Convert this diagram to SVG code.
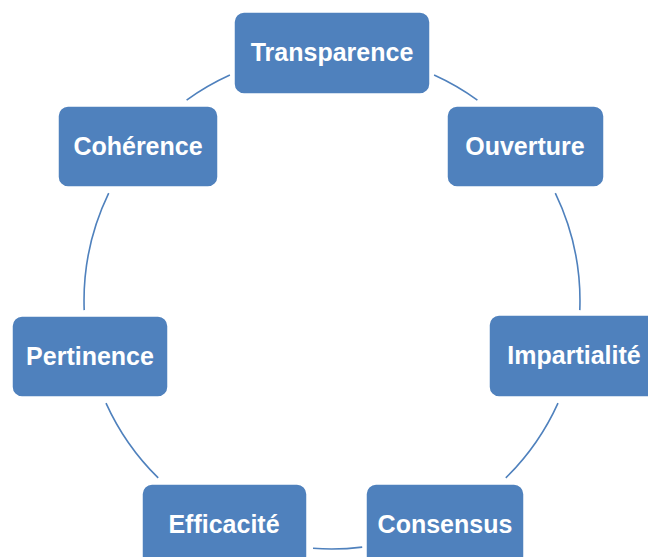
<svg xmlns="http://www.w3.org/2000/svg" width="648" height="557" viewBox="0 0 648 557">
<style>
.box{fill:#4F81BD;stroke:#ffffff;stroke-width:1.5}
.lbl{fill:#ffffff;font-family:"Liberation Sans",Arial,sans-serif;font-weight:bold;font-size:25px;text-anchor:middle}
.arc{fill:none;stroke:#4F81BD;stroke-width:1.6}
</style>
<rect width="648" height="557" fill="#ffffff"/>
<g id="connectors">
<path class="arc" d="M434.1,75 A248,248 0 0 1 477.4,100.1"/>
<path class="arc" d="M555.3,193.1 A248,248 0 0 1 579.8,310.1"/>
<path class="arc" d="M558,403.1 A248,248 0 0 1 505.8,477.9"/>
<path class="arc" d="M362.2,547.1 A248,248 0 0 1 313,548.3"/>
<path class="arc" d="M158.2,477.9 A248,248 0 0 1 106,403.1"/>
<path class="arc" d="M84.2,310.1 A248,248 0 0 1 108.7,193.1"/>
<path class="arc" d="M186.6,100.1 A248,248 0 0 1 229.9,75"/>
</g>
<g id="transparence"><rect class="box" x="234" y="12" width="196" height="82" rx="10"/><text class="lbl" x="332" y="61">Transparence</text></g>
<g id="ouverture"><rect class="box" x="447" y="106" width="157" height="81" rx="10"/><text class="lbl" x="525" y="155">Ouverture</text></g>
<g id="impartialite"><rect class="box" x="489" y="315" width="170" height="82" rx="10"/><text class="lbl" x="574" y="364">Impartialité</text></g>
<g id="consensus"><rect class="box" x="366" y="484" width="158" height="82" rx="10"/><text class="lbl" x="445" y="533">Consensus</text></g>
<g id="efficacite"><rect class="box" x="142" y="484" width="165" height="82" rx="10"/><text class="lbl" x="224" y="533">Efficacité</text></g>
<g id="pertinence"><rect class="box" x="12" y="316" width="156" height="81" rx="10"/><text class="lbl" x="90" y="365">Pertinence</text></g>
<g id="coherence"><rect class="box" x="58" y="106" width="160" height="81" rx="10"/><text class="lbl" x="138" y="155">Cohérence</text></g>
</svg>
